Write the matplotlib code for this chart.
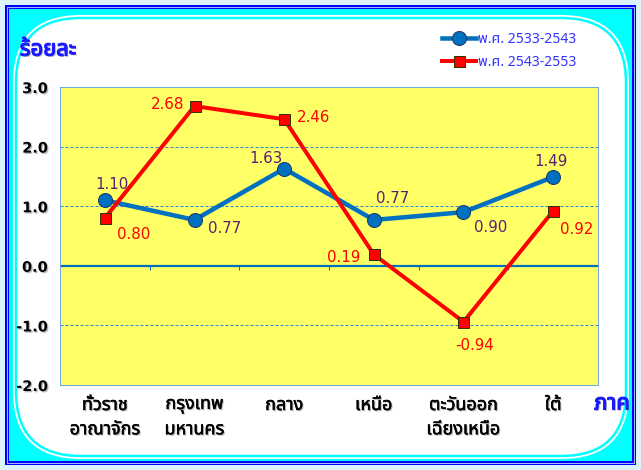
import matplotlib
matplotlib.use('Agg')
import matplotlib.pyplot as plt
import matplotlib.patheffects as pe
from matplotlib.patches import Rectangle, FancyBboxPatch
from matplotlib.transforms import IdentityTransform

# data
regions = ['ทั่วราช\nอาณาจักร', 'กรุงเทพ\nมหานคร', 'กลาง', 'เหนือ',
           'ตะวันออก\nเฉียงเหนือ', 'ใต้']
series_names = ['พ.ศ. 2533-2543', 'พ.ศ. 2543-2553']
growth_33_43 = [1.10, 0.77, 1.63, 0.77, 0.90, 1.49]
growth_43_53 = [0.80, 2.68, 2.46, 0.19, -0.94, 0.92]
y_ticks = [-2.0, -1.0, 0.0, 1.0, 2.0, 3.0]

# label offsets in px (dx, dy)
off_blue = [(7, 16), (30, -9), (-18, 10), (19, 21), (27, -15), (-2, 15)]
off_red = [(29, -16), (-27, 2), (29, 2), (-30, -3), (11, -24), (24, -19)]

W, H = 641, 470
DPI = 72
thai = ['Noto Sans Thai', 'DejaVu Sans']


def shadow(color, bold=0.0):
    # grey drop shadow, optional fake-bold stroke
    fx = [pe.SimplePatchShadow(offset=(1.3, -1.3), shadow_rgbFace='#999999', alpha=0.7)]
    if bold:
        fx.append(pe.Stroke(linewidth=bold, foreground=color))
    fx.append(pe.Normal())
    return fx


fig = plt.figure(figsize=(W / DPI, H / DPI), dpi=DPI, facecolor='#dcf3fd')


def px(x0, y0, x1, y1):
    # image coords (top-left origin) -> display box (x, y, w, h)
    return x0, H - y1, x1 - x0, y1 - y0


# frame decorations, kept behind the axes
x, y, w, h = px(7, 7, 634, 463)
fig.add_artist(Rectangle((x, y), w, h, transform=IdentityTransform(), zorder=-10,
                         facecolor='#00ffff', edgecolor='#0000ff', lw=4))
fig.add_artist(Rectangle((x, y), w, h, transform=IdentityTransform(), zorder=-9,
                         facecolor='none', edgecolor='#c8e8ff', lw=0.8))
x, y, w, h = px(13, 15, 629, 459)
fig.add_artist(FancyBboxPatch((x, y), w, h, boxstyle='round,pad=0,rounding_size=68',
                              transform=IdentityTransform(), zorder=-8,
                              facecolor='white', edgecolor='none'))
x, y, w, h = px(16, 18, 626, 456)
fig.add_artist(FancyBboxPatch((x, y), w, h, boxstyle='round,pad=0,rounding_size=65',
                              transform=IdentityTransform(), zorder=-7,
                              facecolor='none', edgecolor='#00ffff', lw=2.5))

ax = fig.add_axes([60 / W, (H - 385) / H, 538 / W, 298 / H])
ax.set_facecolor('#ffff66')
ax.set_xlim(-0.5, 5.5)
ax.set_ylim(-2.0, 3.0)
for s in ax.spines.values():
    s.set_color('#6fa8dc')
    s.set_linewidth(1)

for gy in [-1.0, 1.0, 2.0]:
    ax.axhline(gy, color='#2b8ae0', lw=1.0, ls=(0, (3, 2)), zorder=1)
ax.axhline(0, color='#0070c0', lw=2.2, zorder=1)
# small category ticks on the zero line
ax.vlines([i + 0.5 for i in range(len(regions) - 1)], -0.07, 0,
          color='#0070c0', lw=1, zorder=1)

xs = list(range(len(regions)))
l1, = ax.plot(xs, growth_33_43, color='#0070c0', lw=4.5, marker='o', ms=14,
              mfc='#0070c0', mec='#1f3864', mew=1, zorder=3, label=series_names[0])
l2, = ax.plot(xs, growth_43_53, color='#ff0000', lw=4, marker='s', ms=11,
              mfc='#ff0000', mec='#333300', mew=1, zorder=4, label=series_names[1])

for i, v in enumerate(growth_33_43):
    ax.annotate('%.2f' % v, (i, v), xytext=off_blue[i], textcoords='offset points',
                ha='center', va='center', fontsize=15, color='#5b1f72', zorder=5)
for i, v in enumerate(growth_43_53):
    ax.annotate('%.2f' % v, (i, v), xytext=off_red[i], textcoords='offset points',
                ha='center', va='center', fontsize=15, color='#ff0000', zorder=5)

ax.set_yticks(y_ticks)
ax.set_yticklabels(['%.1f' % t for t in y_ticks], fontsize=14.5, fontweight='bold',
                   color='black', path_effects=shadow('black'))
ax.set_xticks(xs)
ax.set_xticklabels(regions, fontsize=18, family=thai, color='black',
                   linespacing=1.45, path_effects=shadow('black', 0.45), va='top')
ax.tick_params(axis='both', length=0)
ax.tick_params(axis='y', pad=12)
ax.tick_params(axis='x', pad=11)

fig.text(48 / W, 1 - 50 / H, 'ร้อยละ', family=thai, fontsize=22,
         color='#1a1aff', ha='center', va='center', path_effects=shadow('#1a1aff', 1.2))
fig.text(612 / W, 1 - 404 / H, 'ภาค', family=thai, fontsize=22,
         color='#1a1aff', ha='center', va='center', path_effects=shadow('#1a1aff', 1.2))

leg = fig.legend(handles=[l1, l2], loc='upper left', bbox_to_anchor=(442 / W, 1 - 32 / H),
                 frameon=False, handlelength=2.4, handletextpad=0.15, labelspacing=0.55,
                 borderpad=0, borderaxespad=0,
                 prop={'family': thai, 'size': 14}, labelcolor='#3333ff')

fig.savefig('out.png', dpi=DPI, facecolor=fig.get_facecolor())
